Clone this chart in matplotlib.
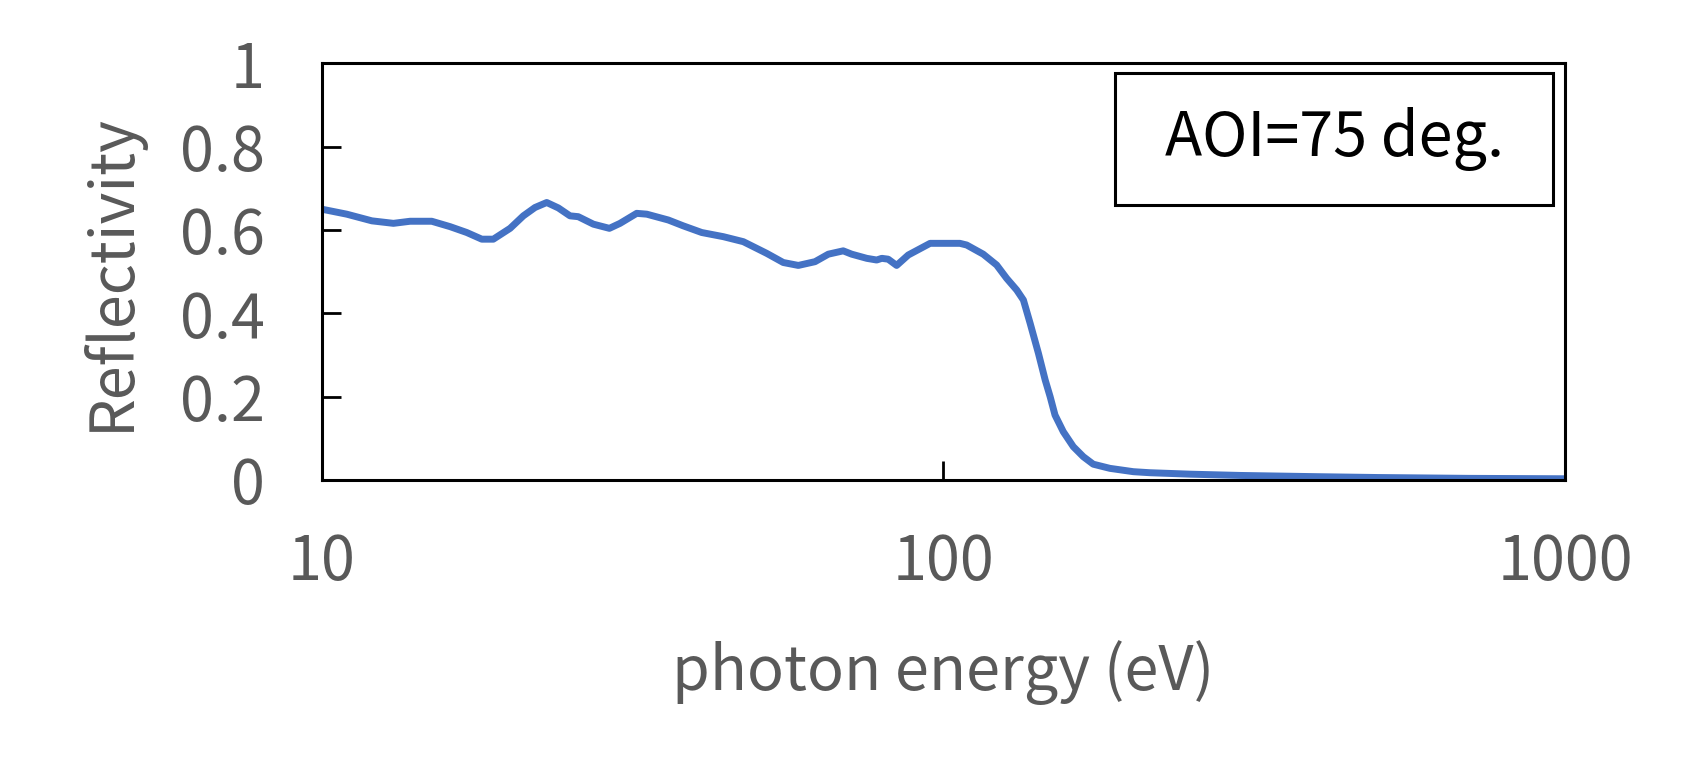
import matplotlib
matplotlib.use('Agg')
import matplotlib.pyplot as plt
from matplotlib.patches import Rectangle

plt.rcParams['font.family'] = ['Noto Sans CJK JP', 'DejaVu Sans']

# photon energy (eV) and reflectivity
energy = [10, 10.97, 12.04, 13.04, 13.87, 15.03, 16.09, 17.11, 18.09, 18.88,
          20.09, 21.1, 22.03, 23.01, 24.02, 25.08, 25.86, 27.35, 29.02, 30.19,
          32.11, 33.33, 36.1, 38.15, 40.85, 44.26, 47.66, 50.39, 51.97, 55.26,
          58.43, 62.16, 65.3, 69.0, 71.2, 75.3, 78.1, 79.6, 81.5, 84.1,
          87.8, 95.2, 106.3, 109.0, 115.9, 121.8, 126.4, 131.2, 134.5, 137.9,
          142.2, 145.8, 148.5, 151.2, 155.9, 161.8, 167.9, 174.2, 185.3, 202.1,
          214.9, 250, 300, 400, 500, 700, 1000]
reflectivity = [0.650, 0.638, 0.622, 0.616, 0.621, 0.621, 0.608, 0.594, 0.578, 0.578,
                0.604, 0.634, 0.654, 0.666, 0.653, 0.634, 0.632, 0.614, 0.604, 0.616,
                0.640, 0.638, 0.624, 0.610, 0.594, 0.584, 0.572, 0.554, 0.544, 0.522,
                0.515, 0.524, 0.542, 0.550, 0.542, 0.532, 0.528, 0.532, 0.530, 0.515,
                0.540, 0.568, 0.568, 0.564, 0.542, 0.516, 0.484, 0.456, 0.432, 0.376,
                0.304, 0.240, 0.200, 0.156, 0.116, 0.080, 0.056, 0.038, 0.028, 0.020,
                0.0175, 0.014, 0.011, 0.008, 0.006, 0.004, 0.003]

y_ticks = [0, 0.2, 0.4, 0.6, 0.8, 1]
y_tick_labels = ['0', '0.2', '0.4', '0.6', '0.8', '1']
x_ticks = [10, 100, 1000]
x_tick_labels = ['10', '100', '1000']

gray = '#595959'

fig = plt.figure(figsize=(16.89, 7.79), dpi=100)
ax = fig.add_axes([0.1905, 0.3838, 0.7361, 0.5349])

ax.plot(energy, reflectivity, color='#4472C4', linewidth=5, solid_joinstyle='round')

ax.set_xscale('log')
ax.set_xlim(10, 1000)
ax.set_ylim(0, 1)
ax.set_xticks(x_ticks)
ax.set_xticklabels(x_tick_labels)
ax.xaxis.set_minor_locator(matplotlib.ticker.NullLocator())
ax.set_yticks(y_ticks)
ax.set_yticklabels(y_tick_labels)

ax.tick_params(axis='both', direction='in', length=14, width=2, color='black',
               labelcolor=gray, labelsize=44)
ax.tick_params(axis='y', pad=41)
ax.tick_params(axis='x', pad=37)

for s in ax.spines.values():
    s.set_linewidth(2.2)
    s.set_color('black')

ax.set_xlabel('photon energy (eV)', fontsize=44, color=gray, labelpad=33)
ax.set_ylabel('Reflectivity', fontsize=44, color=gray, labelpad=27)

box = Rectangle((0.638, 0.660), 0.3526, 0.316, transform=ax.transAxes,
                fill=False, edgecolor='black', linewidth=2.2, zorder=5)
ax.add_patch(box)
ax.text(0.8143, 0.818, 'AOI=75 deg.', transform=ax.transAxes, ha='center',
        va='center', fontsize=44, color='black', zorder=6)

plt.savefig('out.png', dpi=100)
plt.close()
